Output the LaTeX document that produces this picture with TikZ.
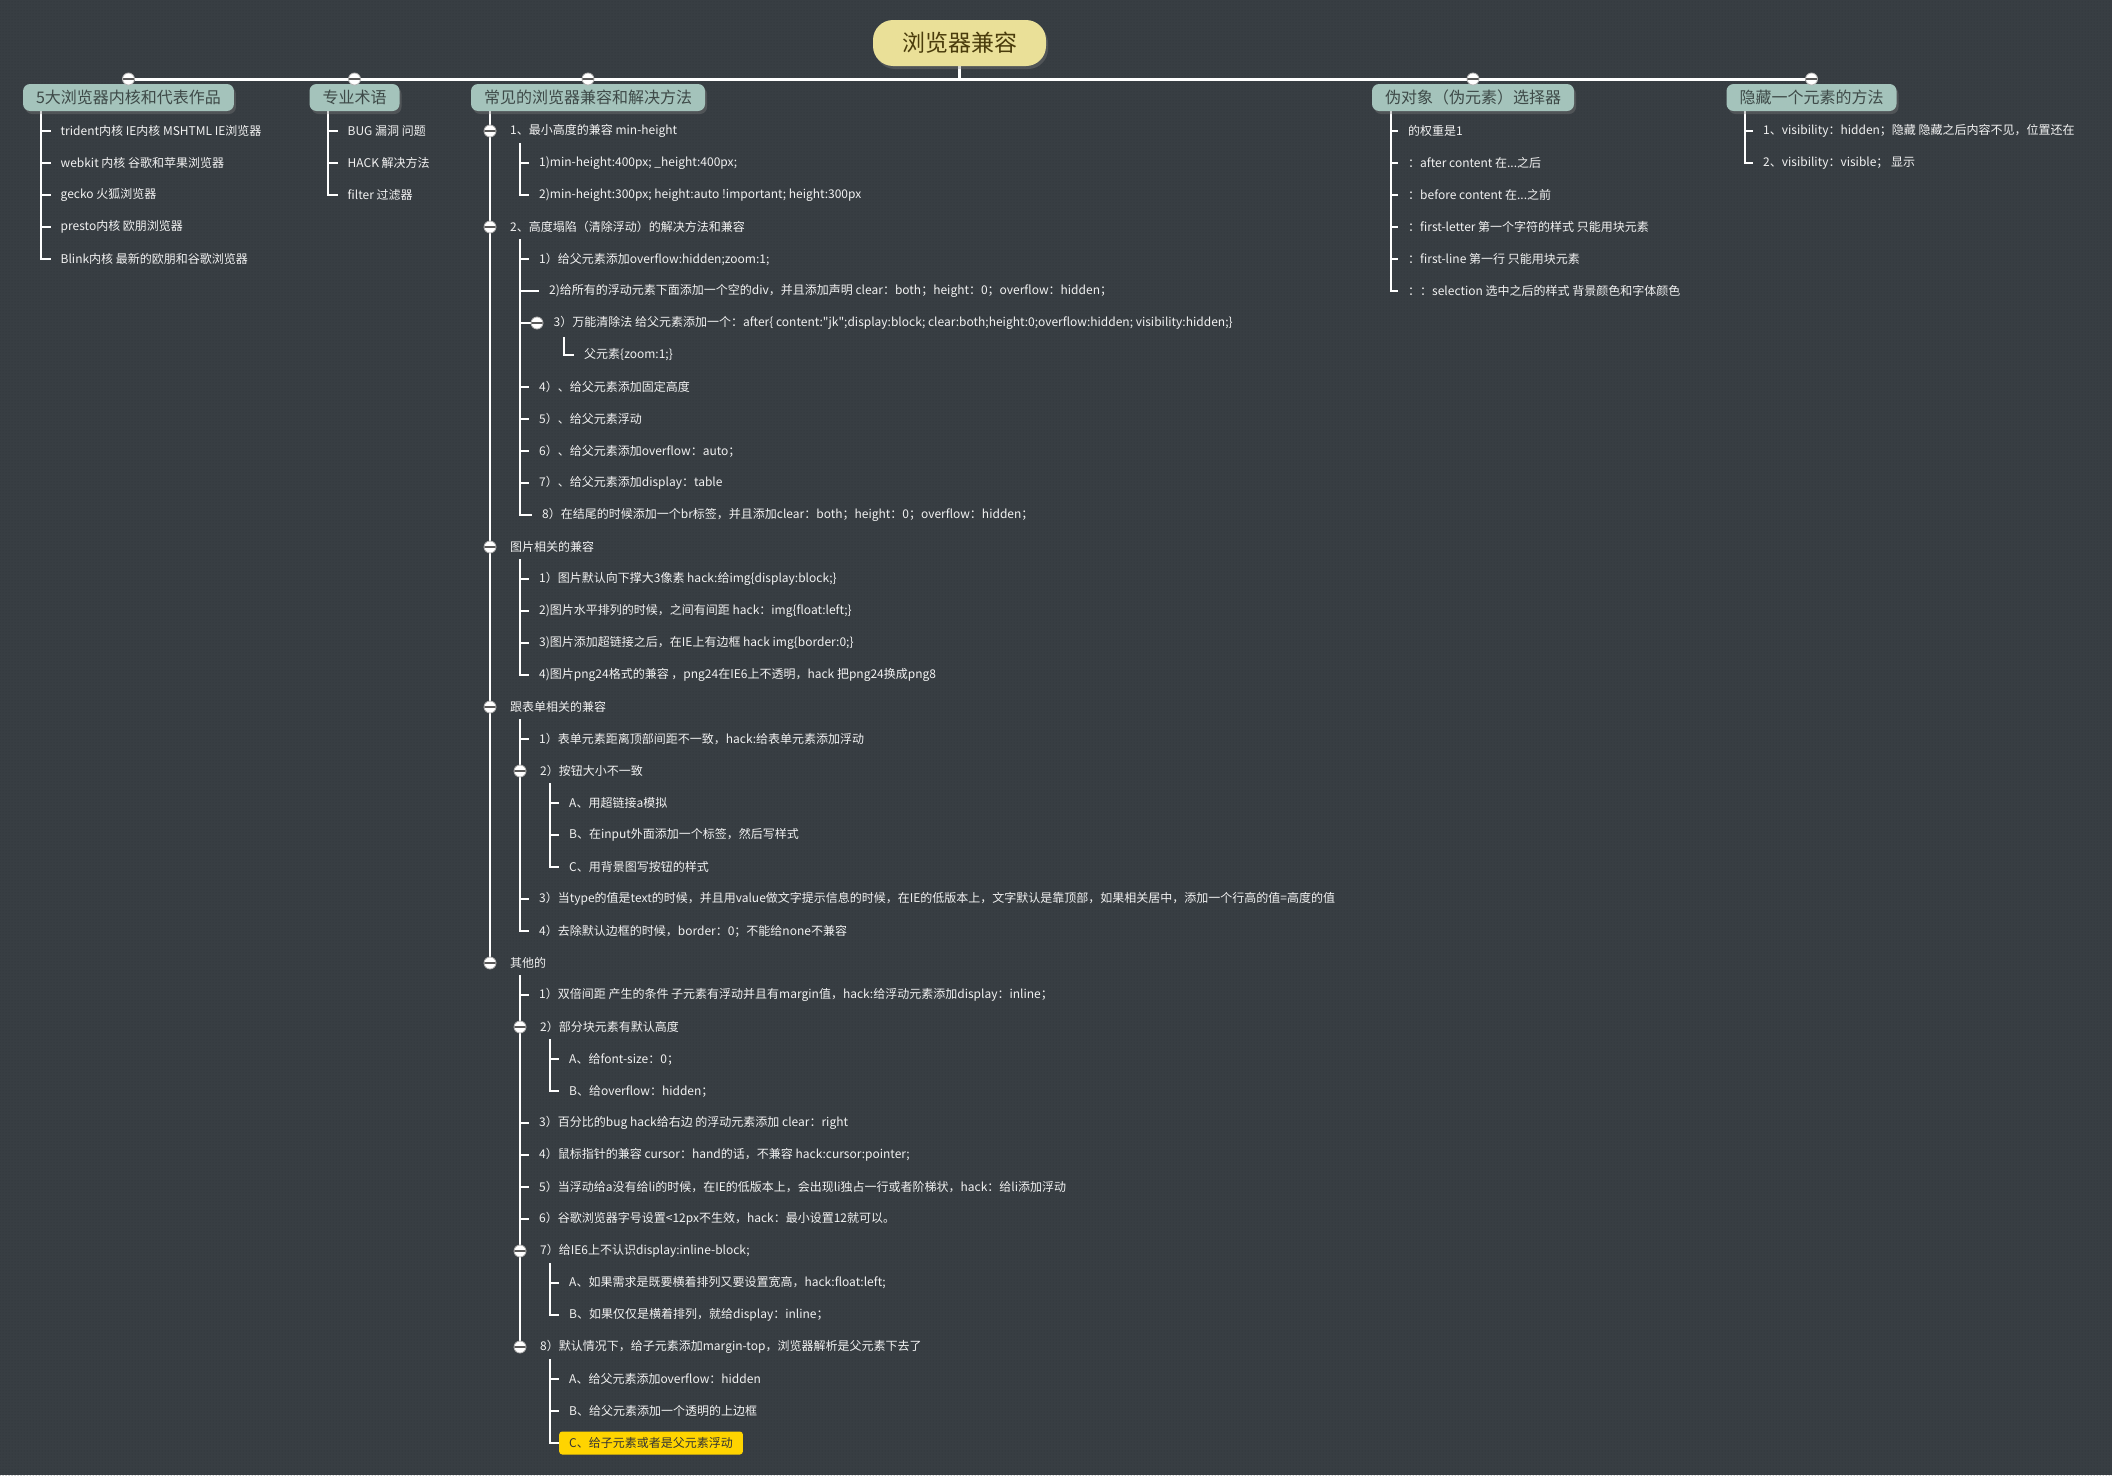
\documentclass[tikz,border=0pt]{standalone}
\usepackage{fontspec}
\setmainfont{Noto Sans CJK SC}[Ligatures=TeXOff]
\usetikzlibrary{positioning,backgrounds,shadows,patterns}

\definecolor{slate}{HTML}{383E43}
\definecolor{slatedot}{HTML}{2E3338}
\definecolor{sage}{HTML}{A4C3BB}
\definecolor{sagetext}{HTML}{3E4A48}
\definecolor{straw}{HTML}{EAE098}
\definecolor{strawtext}{HTML}{4A3C0C}
\definecolor{leaftext}{HTML}{F2F2F2}
\definecolor{gold}{HTML}{FFD400}

\pgfdeclarelayer{canvas}
\pgfsetlayers{canvas,background,main}

\tikzset{
  title/.style={rectangle, rounded corners=20pt, fill=straw, text=strawtext,
    minimum width=173pt, minimum height=46pt, font=\fontsize{23}{27}\selectfont,
    drop shadow={shadow xshift=2pt, shadow yshift=-3pt, opacity=0.35}},
  branch/.style={rectangle, rounded corners=7pt, fill=sage, text=sagetext,
    minimum height=27pt, inner xsep=13pt, font=\fontsize{16}{19}\selectfont,
    drop shadow={shadow xshift=2pt, shadow yshift=-3pt, opacity=0.35}},
  leaf/.style={anchor=west, inner xsep=10pt, inner ysep=1pt, text=leaftext,
    font=\fontsize{12}{14}\selectfont},
  picked/.style={leaf, fill=gold, text=black!80, rounded corners=3pt, minimum height=23pt},
  knob/.style={circle, draw=gray!60, fill=white, line width=0.8pt, minimum size=12pt,
    inner sep=0pt, path picture={\fill[black!65]
      ([yshift=-1.3pt]path picture bounding box.west) rectangle
      ([yshift=1.3pt]path picture bounding box.east);}},
  limb/.style={draw=white, line width=3pt},
  twig/.style={draw=white, line width=2pt}
}

\begin{document}
\begin{tikzpicture}[x=1pt,y=-1pt]
\useasboundingbox (0,0) rectangle (2112,1475);
\begin{pgfonlayer}{canvas}
  \fill[slate] (0,0) rectangle (2112,1475);
  \fill[pattern=dots, pattern color=slatedot] (0,0) rectangle (2112,1475);
\end{pgfonlayer}

% root and main branches
\node[title] (root) at (959.5,43) {浏览器兼容};
\node[branch] (b1) at (128.5,97.5) {5大浏览器内核和代表作品};
\node[branch] (b2) at (354.5,97.5) {专业术语};
\node[branch] (b3) at (588,97.5) {常见的浏览器兼容和解决方法};
\node[branch] (b4) at (1473,97.5) {伪对象（伪元素）选择器};
\node[branch] (b5) at (1811.5,97.5) {隐藏一个元素的方法};
\node[knob] (t1) at (128.5,79) {};
\node[knob] (t2) at (354.5,79) {};
\node[knob] (t3) at (588,79) {};
\node[knob] (t4) at (1473,79) {};
\node[knob] (t5) at (1811.5,79) {};

% 5 kernels
\coordinate (b1t) at (41,111);
\node[leaf] (b1a) at (50.5,131) {trident内核 IE内核 MSHTML IE浏览器};
\node[leaf] (b1b) at (50.5,163) {webkit 内核 谷歌和苹果浏览器};
\node[leaf] (b1c) at (50.5,195) {gecko 火狐浏览器};
\node[leaf] (b1d) at (50.5,227) {presto内核 欧朋浏览器};
\node[leaf] (b1e) at (50.5,259) {Blink内核 最新的欧朋和谷歌浏览器};

% terms
\coordinate (b2t) at (328,111);
\node[leaf] (b2a) at (337.5,131) {BUG 漏洞 问题};
\node[leaf] (b2b) at (337.5,163) {HACK 解决方法};
\node[leaf] (b2c) at (337.5,195) {filter 过滤器};

% pseudo elements
\coordinate (b4t) at (1391,111);
\node[leaf] (b4a) at (1398,131) {的权重是1};
\node[leaf] (b4b) at (1398,163) {：after content 在...之后};
\node[leaf] (b4c) at (1398,195) {：before content 在...之前};
\node[leaf] (b4d) at (1398,227) {：first-letter 第一个字符的样式 只能用块元素};
\node[leaf] (b4e) at (1398,259) {：first-line 第一行 只能用块元素};
\node[leaf] (b4f) at (1398,291) {：：selection 选中之后的样式 背景颜色和字体颜色};

% hiding
\coordinate (b5t) at (1745,111);
\node[leaf] (b5a) at (1753,131) {1、visibility：hidden；隐藏 隐藏之后内容不见，位置还在};
\node[leaf] (b5b) at (1753,163) {2、visibility：visible； 显示};

% common problems
\coordinate (b3t) at (490,111);
\node[knob] (k0) at (490,131) {};
\node[leaf] (m0) at (500,131) {1、最小高度的兼容 min-height};
\coordinate (g1t) at (520,143);
\node[leaf] (m1) at (529,163) {1)min-height:400px; \_height:400px;};
\node[leaf] (m2) at (529,195) {2)min-height:300px; height:auto !important; height:300px};

\node[knob] (k3) at (490,227) {};
\node[leaf] (m3) at (500,227) {2、高度塌陷（清除浮动）的解决方法和兼容};
\coordinate (g2t) at (520,239);
\node[leaf] (m4) at (529,259) {1）给父元素添加overflow:hidden;zoom:1;};
\node[leaf] (m5) at (539,291) {2)给所有的浮动元素下面添加一个空的div，并且添加声明 clear：both；height：0；overflow：hidden；};
\node[knob] (k6) at (537,323) {};
\node[leaf] (m6) at (543.5,323) {3）万能清除法 给父元素添加一个：after\{ content:"jk";display:block; clear:both;height:0;overflow:hidden; visibility:hidden;\}};
\coordinate (g2x) at (564,337);
\node[leaf] (m7) at (574,355) {父元素\{zoom:1;\}};
\node[leaf] (m8) at (529,387) {4）、给父元素添加固定高度};
\node[leaf] (m9) at (529,419) {5）、给父元素浮动};
\node[leaf] (m10) at (529,451) {6）、给父元素添加overflow：auto；};
\node[leaf] (m11) at (529,483) {7）、给父元素添加display：table};
\node[leaf] (m12) at (532,515) {8）在结尾的时候添加一个br标签，并且添加clear：both；height：0；overflow：hidden；};

\node[knob] (k13) at (490,547) {};
\node[leaf] (m13) at (500,547) {图片相关的兼容};
\coordinate (g3t) at (520,559);
\node[leaf] (m14) at (529,579) {1）图片默认向下撑大3像素 hack:给img\{display:block;\}};
\node[leaf] (m15) at (529,611) {2)图片水平排列的时候，之间有间距 hack：img\{float:left;\}};
\node[leaf] (m16) at (529,643) {3)图片添加超链接之后，在IE上有边框 hack img\{border:0;\}};
\node[leaf] (m17) at (529,675) {4)图片png24格式的兼容 ，png24在IE6上不透明，hack 把png24换成png8};

\node[knob] (k18) at (490,707) {};
\node[leaf] (m18) at (500,707) {跟表单相关的兼容};
\coordinate (g4t) at (520,719);
\node[leaf] (m19) at (529,739) {1）表单元素距离顶部间距不一致，hack:给表单元素添加浮动};
\node[knob] (k20) at (520,771) {};
\node[leaf] (m20) at (530,771) {2）按钮大小不一致};
\coordinate (g4x) at (550,783);
\node[leaf] (m21) at (559,803) {A、用超链接a模拟};
\node[leaf] (m22) at (559,835) {B、在input外面添加一个标签，然后写样式};
\node[leaf] (m23) at (559,867) {C、用背景图写按钮的样式};
\node[leaf] (m24) at (529,899) {3）当type的值是text的时候，并且用value做文字提示信息的时候，在IE的低版本上，文字默认是靠顶部，如果相关居中，添加一个行高的值=高度的值};
\node[leaf] (m25) at (529,931) {4）去除默认边框的时候，border：0；不能给none不兼容};

\node[knob] (k26) at (490,963) {};
\node[leaf] (m26) at (500,963) {其他的};
\coordinate (g5t) at (520,975);
\node[leaf] (m27) at (529,995) {1）双倍间距 产生的条件 子元素有浮动并且有margin值，hack:给浮动元素添加display：inline；};
\node[knob] (k28) at (520,1027) {};
\node[leaf] (m28) at (530,1027) {2）部分块元素有默认高度};
\coordinate (g5x) at (550,1039);
\node[leaf] (m29) at (559,1059) {A、给font-size：0；};
\node[leaf] (m30) at (559,1091) {B、给overflow：hidden；};
\node[leaf] (m31) at (529,1123) {3）百分比的bug hack给右边 的浮动元素添加 clear：right};
\node[leaf] (m32) at (529,1155) {4）鼠标指针的兼容 cursor：hand的话，不兼容 hack:cursor:pointer;};
\node[leaf] (m33) at (529,1187) {5）当浮动给a没有给li的时候，在IE的低版本上，会出现li独占一行或者阶梯状，hack：给li添加浮动};
\node[leaf] (m34) at (529,1219) {6）谷歌浏览器字号设置<12px不生效，hack：最小设置12就可以。};
\node[knob] (k35) at (520,1251) {};
\node[leaf] (m35) at (530,1251) {7）给IE6上不认识display:inline-block;};
\coordinate (g5y) at (550,1263);
\node[leaf] (m36) at (559,1283) {A、如果需求是既要横着排列又要设置宽高，hack:float:left;};
\node[leaf] (m37) at (559,1315) {B、如果仅仅是横着排列，就给display：inline；};
\node[knob] (k38) at (520,1347) {};
\node[leaf] (m38) at (530,1347) {8）默认情况下，给子元素添加margin-top，浏览器解析是父元素下去了};
\coordinate (g5z) at (550,1359);
\node[leaf] (m39) at (559,1379) {A、给父元素添加overflow：hidden};
\node[leaf] (m40) at (559,1411) {B、给父元素添加一个透明的上边框};
\node[picked] (m41) at (559,1443) {C、给子元素或者是父元素浮动};

% connectors
\begin{scope}[on background layer]
  \draw[limb] (t1) -- (t5);
  \draw[limb] (root) -- (root |- t1);
  \draw[twig] (b1t) |- (b1e.west);
  \foreach \n in {b1a,b1b,b1c,b1d} \draw[twig] (\n.west -| b1t) -- (\n.west);
  \draw[twig] (b2t) |- (b2c.west);
  \foreach \n in {b2a,b2b} \draw[twig] (\n.west -| b2t) -- (\n.west);
  \draw[twig] (b4t) |- (b4f.west);
  \foreach \n in {b4a,b4b,b4c,b4d,b4e} \draw[twig] (\n.west -| b4t) -- (\n.west);
  \draw[twig] (b5t) |- (b5b.west);
  \draw[twig] (b5a.west -| b5t) -- (b5a.west);
  \draw[twig] (b3t) -- (k26);
  \draw[twig] (g1t) |- (m2.west);
  \draw[twig] (m1.west -| g1t) -- (m1.west);
  \draw[twig] (g2t) |- (m12.west);
  \foreach \n in {m4,m5,m8,m9,m10,m11} \draw[twig] (\n.west -| g2t) -- (\n.west);
  \draw[twig] (k6 -| g2t) -- (k6);
  \draw[twig] (g2x) |- (m7.west);
  \draw[twig] (g3t) |- (m17.west);
  \foreach \n in {m14,m15,m16} \draw[twig] (\n.west -| g3t) -- (\n.west);
  \draw[twig] (g4t) |- (m25.west);
  \foreach \n in {m19,m24} \draw[twig] (\n.west -| g4t) -- (\n.west);
  \draw[twig] (g4x) |- (m23.west);
  \foreach \n in {m21,m22} \draw[twig] (\n.west -| g4x) -- (\n.west);
  \draw[twig] (g5t) -- (k38);
  \foreach \n in {m27,m31,m32,m33,m34} \draw[twig] (\n.west -| g5t) -- (\n.west);
  \draw[twig] (g5x) |- (m30.west);
  \draw[twig] (m29.west -| g5x) -- (m29.west);
  \draw[twig] (g5y) |- (m37.west);
  \draw[twig] (m36.west -| g5y) -- (m36.west);
  \draw[twig] (g5z) |- (m41.west);
  \foreach \n in {m39,m40} \draw[twig] (\n.west -| g5z) -- (\n.west);
\end{scope}
\end{tikzpicture}
\end{document}
